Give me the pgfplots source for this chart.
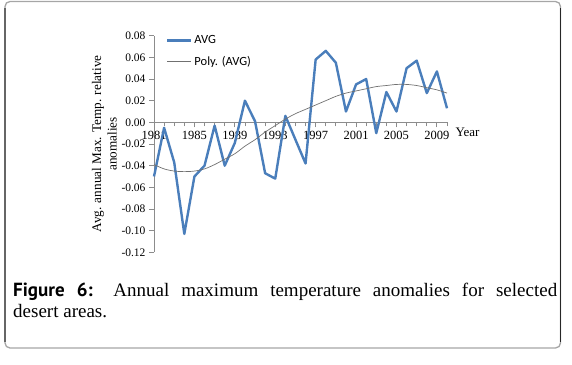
\documentclass[border=0pt]{standalone}
\usepackage{fontspec}
\setmainfont{Liberation Serif}
\newfontfamily\carlito{Carlito}
\newfontfamily\ptsans{PT Sans}
\usepackage{pgfplots}
\pgfplotsset{compat=1.18}
\definecolor{avgblue}{HTML}{4A7EBB}
\definecolor{axisgray}{HTML}{8C8C8C}
\definecolor{polygray}{HTML}{707070}
\begin{document}
\begin{tikzpicture}
\useasboundingbox (0,0) rectangle (572pt,-364pt);
% frame
\draw[draw=black!35, line width=1.3pt, rounded corners=5pt] (5pt,-1.5pt) rectangle (560.5pt,-348pt);
\draw[draw=black!60, line width=1.3pt] (5pt,-8pt) -- (5pt,-342pt);
\draw[draw=black!85, line width=1.3pt] (560.5pt,-8pt) -- (560.5pt,-342pt);
\begin{axis}[
  at={(154pt,-252.3pt)}, anchor=south west,
  scale only axis, width=293pt, height=216.6pt,
  xmin=1981, xmax=2010, ymin=-0.12, ymax=0.08,
  axis x line=middle, axis y line=left,
  hide obscured x ticks=false, hide obscured y ticks=false,
  axis line style={draw=axisgray, line width=0.8pt, -},
  every tick/.style={draw=axisgray, line width=0.8pt},
  tick align=outside,
  major tick length=5pt, minor tick length=4pt,
  xtick={1981,1985,...,2009},
  minor xtick={1981,...,2010},
  ytick={-0.12,-0.1,-0.08,-0.06,-0.04,-0.02,0,0.02,0.04,0.06,0.08},
  /pgf/number format/assume math mode=true,
  x tick label style={font=\fontsize{12.5}{14}\selectfont, /pgf/number format/1000 sep={}},
  y tick label style={font=\fontsize{11.5}{13}\selectfont, /pgf/number format/.cd, fixed, fixed zerofill, precision=2},
  xlabel={Year},
  xlabel style={at={(axis cs:2010,0)}, anchor=north west, xshift=5pt, yshift=-2pt, font=\fontsize{13}{15}\selectfont},
  ylabel={Avg. annual Max. Temp. relative\\anomalies},
  ylabel style={at={(axis description cs:-0.169,0.5)}, anchor=center, align=center, font=\fontsize{13.2}{15.5}\selectfont},
  legend style={draw=none, fill=none, at={(axis description cs:0.037,1.015)}, anchor=north west,
    font=\carlito\fontsize{12.5}{14}\selectfont, row sep=7pt, inner sep=1pt},
  legend cell align=left,
  legend image code/.code={\draw[#1] (0pt,0pt) -- (24pt,0pt);},
  clip=false,
]
\addplot[avgblue, line width=2.4pt, line join=round] coordinates {
(1981,-0.050) (1982,-0.005) (1983,-0.037) (1984,-0.103) (1985,-0.050)
(1986,-0.040) (1987,-0.003) (1988,-0.040) (1989,-0.019) (1990,0.020)
(1991,0.001) (1992,-0.047) (1993,-0.052) (1994,0.006) (1995,-0.016)
(1996,-0.038) (1997,0.058) (1998,0.066) (1999,0.055) (2000,0.010)
(2001,0.035) (2002,0.040) (2003,-0.010) (2004,0.028) (2005,0.010)
(2006,0.050) (2007,0.057) (2008,0.027) (2009,0.047) (2010,0.013)
};
\addlegendentry{AVG}
\addplot[polygray, line width=0.7pt, smooth] coordinates {
(1981,-0.039) (1982,-0.043) (1983,-0.045) (1984,-0.0455) (1985,-0.045)
(1986,-0.043) (1987,-0.039) (1988,-0.034) (1989,-0.029) (1990,-0.022)
(1991,-0.016) (1992,-0.009) (1993,-0.003) (1994,0.003) (1995,0.008)
(1996,0.012) (1997,0.016) (1998,0.020) (1999,0.024) (2000,0.027)
(2001,0.029) (2002,0.031) (2003,0.033) (2004,0.034) (2005,0.035)
(2006,0.035) (2007,0.034) (2008,0.032) (2009,0.030) (2010,0.027)
};
\addlegendentry{Poly. (AVG)}
\end{axis}
\node[anchor=north west, inner sep=0pt, text width=544pt, align=justify,
  font=\fontsize{19}{21}\selectfont] at (13pt,-282.5pt)
  {{\ptsans\bfseries Figure 6:} Annual maximum temperature anomalies for selected\linebreak desert areas.};
\end{tikzpicture}
\end{document}
